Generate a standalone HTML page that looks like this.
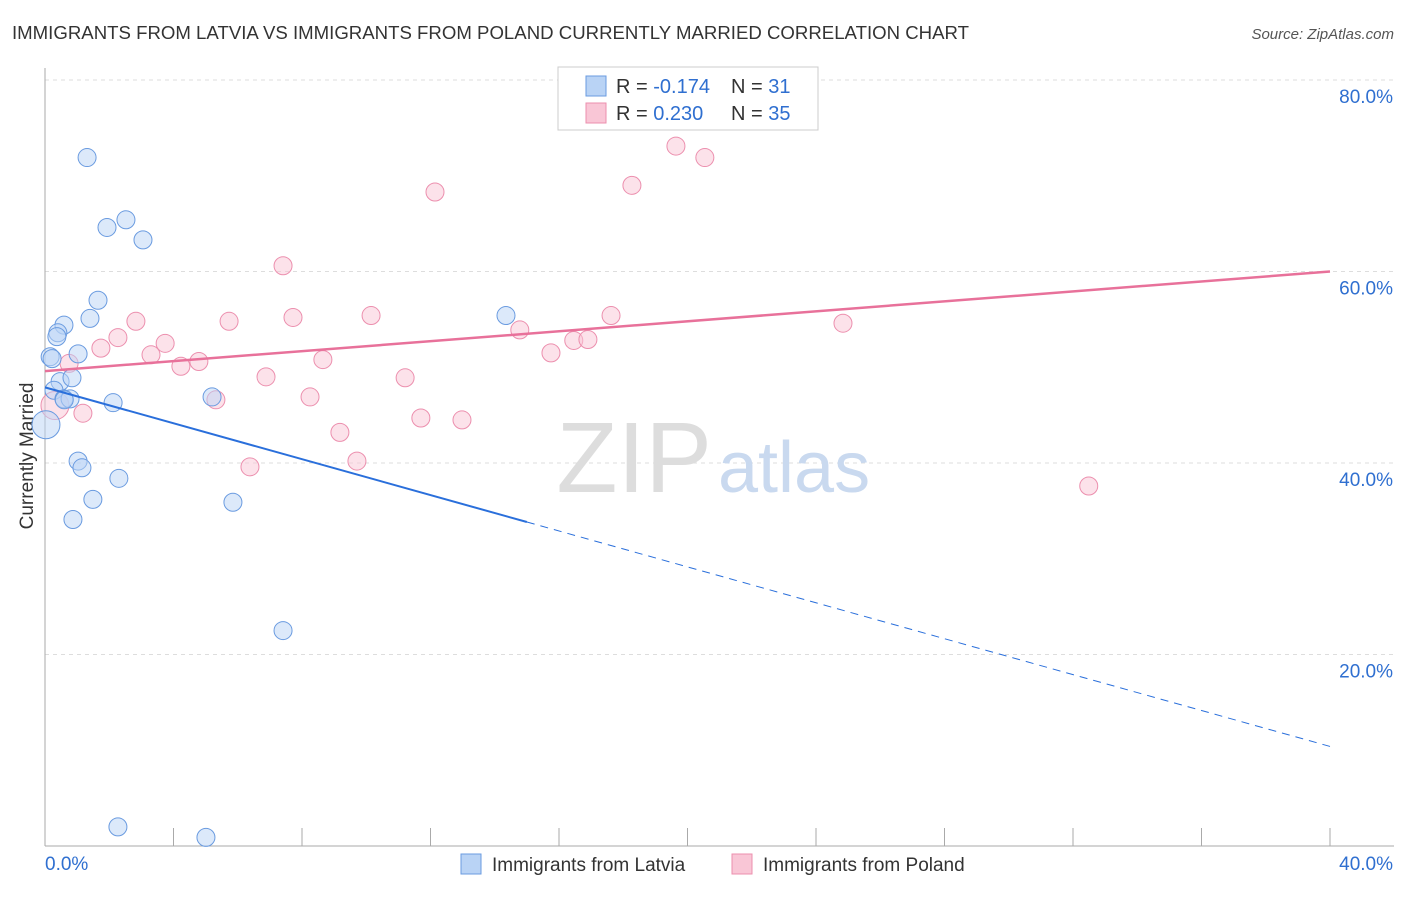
<!DOCTYPE html>
<html><head><meta charset="utf-8"><style>
body{margin:0;background:#fff;font-family:"Liberation Sans",sans-serif;}
svg text{font-family:"Liberation Sans",sans-serif;}
</style></head><body>
<svg id="chart" width="1406" height="892" xmlns="http://www.w3.org/2000/svg">
<text x="12" y="39" font-size="18" fill="#333" textLength="957" lengthAdjust="spacingAndGlyphs">IMMIGRANTS FROM LATVIA VS IMMIGRANTS FROM POLAND CURRENTLY MARRIED CORRELATION CHART</text>
<text x="1394" y="39" font-size="15" fill="#555" font-style="italic" text-anchor="end">Source: ZipAtlas.com</text>
<text x="33" y="456" font-size="19" fill="#333" text-anchor="middle" transform="rotate(-90 33 456)">Currently Married</text>
<g id="grid"></g>
<g id="axes"></g>
<text x="712" y="492" font-size="100" fill="#ddd" text-anchor="end" font-family="Liberation Serif">ZIP</text>
<text x="718" y="492" font-size="72" fill="#c9d9ef">atlas</text>
<g id="marks"></g>
<g>
<rect x="558" y="67" width="260" height="63" fill="#fff" stroke="#ccc"/>
<rect x="586" y="76" width="20" height="20" fill="#b9d3f5" stroke="#6a9be0"/>
<rect x="586" y="103" width="20" height="20" fill="#f9c6d6" stroke="#ec8fae"/>
<text x="616" y="93" font-size="20" fill="#333">R = <tspan fill="#2f6fd0">-0.174</tspan></text>
<text x="731" y="93" font-size="20" fill="#333">N = <tspan fill="#2f6fd0"> 31</tspan></text>
<text x="616" y="120" font-size="20" fill="#333">R = <tspan fill="#2f6fd0"> 0.230</tspan></text>
<text x="731" y="120" font-size="20" fill="#333">N = <tspan fill="#2f6fd0">35</tspan></text>
</g>
<g>
<rect x="461" y="854" width="20" height="20" fill="#b9d3f5" stroke="#6a9be0"/>
<text x="492" y="871" font-size="19" fill="#333">Immigrants from Latvia</text>
<rect x="732" y="854" width="20" height="20" fill="#f9c6d6" stroke="#ec8fae"/>
<text x="763" y="871" font-size="19" fill="#333">Immigrants from Poland</text>
</g>
</svg>
<script>
const yTicks=[20,40,60,80];
const xTickLabels=["0.0%","40.0%"];
const latviaX=[1.31,1.93,2.52,3.05,1.65,1.40,0.59,0.40,0.37,1.03,0.16,0.22,0.47,0.84,0.28,0.59,0.78,2.12,5.20,14.35,0.03,1.03,1.15,2.30,1.49,0.87,5.85,7.41,2.27,5.01,0.6];
const latviaY=[71.9,64.6,65.4,63.3,57.0,55.1,54.4,53.6,53.2,51.4,51.1,50.9,48.5,48.9,47.6,46.7,46.7,46.3,46.9,55.4,44.0,40.2,39.5,38.4,36.2,34.1,35.9,22.5,2.0,0.9,46.6];
const polandX=[19.64,20.54,18.27,12.14,7.41,2.83,5.73,7.72,10.15,17.62,24.84,2.27,3.74,1.74,14.78,16.46,16.90,15.75,3.30,4.79,4.23,8.65,0.75,6.88,11.21,8.25,5.32,0.31,1.18,11.70,12.98,9.18,9.71,6.38,32.49];
const polandY=[73.1,71.9,69.0,68.3,60.6,54.8,54.8,55.2,55.4,55.4,54.6,53.1,52.5,52.0,53.9,52.8,52.9,51.5,51.3,50.6,50.1,50.8,50.4,49.0,48.9,46.9,46.6,46.0,45.2,44.7,44.5,43.2,40.2,39.6,37.6];
const latviaTrend=[47.9,10.4];
const polandTrend=[49.6,60.0];
const latviaSolidEnd=15;
const NS="http://www.w3.org/2000/svg";
const X0=45,X1=1330,Y0=846,PX=9.575;
const sx=v=>X0+(v/40)*(X1-X0);
const sy=v=>Y0-v*PX;
function mk(tag,attrs,parent){const e=document.createElementNS(NS,tag);for(const k in attrs)e.setAttribute(k,attrs[k]);parent.appendChild(e);return e;}
const grid=document.getElementById('grid'),axes=document.getElementById('axes'),marks=document.getElementById('marks');
yTicks.forEach(t=>{
 const l=mk('line',{x1:X0,x2:1394,y1:sy(t),y2:sy(t),stroke:'#ddd','stroke-dasharray':'4,4'},grid);
 
 
 const tx=mk('text',{x:1393,y:sy(t)+23,'font-size':19,fill:'#2f6fd0','text-anchor':'end'},axes);
 tx.textContent=t.toFixed(1)+'%';
 
 
});
mk('line',{x1:X0,x2:X0,y1:68,y2:Y0,stroke:'#aaa'},axes);
mk('line',{x1:X0,x2:1394,y1:Y0,y2:Y0,stroke:'#aaa'},axes);
for(let i=0;i<=10;i++){const x=sx(i*4);
 const t=mk('line',{x1:x,x2:x,y1:828,y2:Y0,stroke:'#aaa'},axes);
 
 }
const xl0=mk('text',{x:45,y:870,'font-size':19,fill:'#2f6fd0'},axes);xl0.textContent=xTickLabels[0];


const xl1=mk('text',{x:1393,y:870,'font-size':19,fill:'#2f6fd0','text-anchor':'end'},axes);xl1.textContent=xTickLabels[1];


function dots(xs,ys,fill,stroke,name){xs.forEach((x,i)=>{
 const r=(x<0.1||(name==='poland'&&x<0.35))?14:9;
 const c=mk('circle',{cx:sx(x),cy:sy(ys[i]),r:r,fill:fill,'fill-opacity':0.5,stroke:stroke,'stroke-width':1},marks);
 
 });}
dots(polandX,polandY,'#f9c6d6','#ec8fae','poland');
dots(latviaX,latviaY,'#b9d3f5','#6a9be0','latvia');
const lt=v=>latviaTrend[0]+(latviaTrend[1]-latviaTrend[0])*v/40;
const l1=mk('line',{x1:sx(0),y1:sy(lt(0)),x2:sx(latviaSolidEnd),y2:sy(lt(latviaSolidEnd)),stroke:'#2a6fdb','stroke-width':2},marks);


const l2=mk('line',{x1:sx(latviaSolidEnd),y1:sy(lt(latviaSolidEnd)),x2:sx(40),y2:sy(lt(40)),stroke:'#2a6fdb','stroke-width':1,'stroke-dasharray':'8,6'},marks);


const l3=mk('line',{x1:sx(0),y1:sy(polandTrend[0]),x2:sx(40),y2:sy(polandTrend[1]),stroke:'#e8719a','stroke-width':2.5},marks);


</script>
</body></html>
